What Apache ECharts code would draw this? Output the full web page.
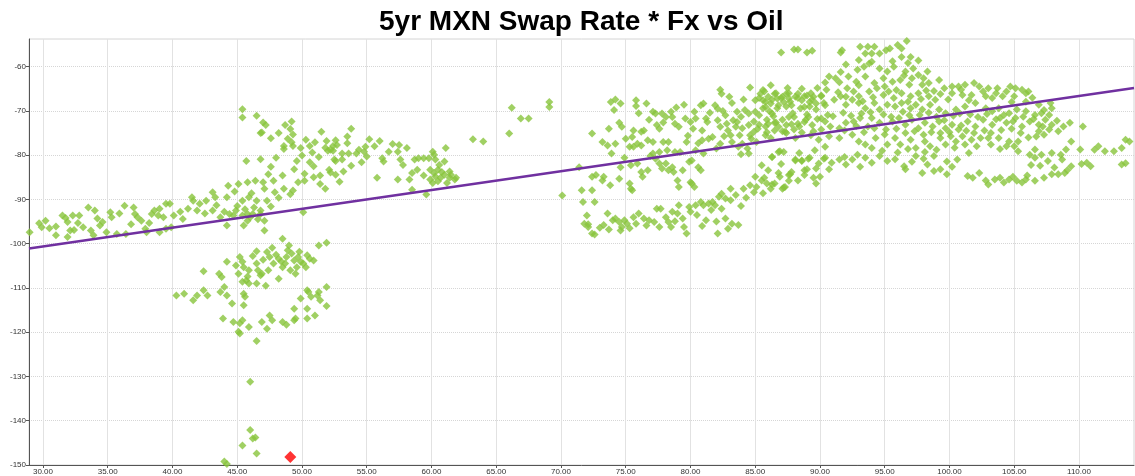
<!DOCTYPE html>
<html>
<head>
<meta charset="utf-8">
<title>5yr MXN Swap Rate * Fx vs Oil</title>
<script src="https://cdn.jsdelivr.net/npm/echarts@6/dist/echarts.min.js"></script>
<style>
  html, body { margin: 0; padding: 0; background: #fff; }
  #chart { width: 1135px; height: 476px; }
</style>
</head>
<body>
<div id="chart"></div>
<script>
// tick values
const xTicks = [30, 35, 40, 45, 50, 55, 60, 65, 70, 75, 80, 85, 90, 95, 100, 105, 110];
const yTicks = [-150, -140, -130, -120, -110, -100, -90, -80, -70, -60];

// oil (x) vs swap rate * fx (y), grouped by cloud
const leftBand = [
  [28.97,-97.4],[29.7,-95.4],[29.9,-96.3],[30.5,-96.5],[31.0,-96.1],[31.0,-98.1],[31.5,-93.6],[31.75,-94.2],
  [31.9,-95.1],[32.1,-97],[31.9,-98.5],[32.3,-93.6],[32.8,-93.6],[32.7,-95.3],[33.1,-96.3],[33.5,-91.8],
  [34.0,-92.5],[33.7,-97],[33.9,-98.1],[34.6,-95.1],[34.4,-95.9],[34.9,-97.4],[35.2,-92.9],[35.3,-94],
  [35.7,-97.8],[36.3,-91.4],[36.4,-97.8],[37.0,-91.8],[37.1,-93.3],[37.3,-94],[37.6,-94.8],[37.9,-96.6],
  [38.0,-97.4],[38.4,-93.3],[38.6,-92.5],[38.9,-93.6],[39.0,-92.1],[39.3,-94],[39.5,-91],[39.8,-91],
  [40.1,-93.6],[39.9,-96.3],[39.0,-97.4],[39.5,-96.6],[40.8,-94.4],[41.2,-92.1],[41.5,-89.5],[41.6,-90.3],
  [42.1,-91],[41.9,-92.5],[42.6,-90.3],[43.1,-88.4],[43.3,-89.5],[43.1,-92.5],[43.7,-94],[44.2,-95.9],
  [44.3,-86.9],[44.2,-89.5],[44.4,-93.3],[44.7,-93.6],[44.9,-92.5],[45.1,-86.5],[45.4,-90.3],[45.5,-95.9],
  [45.8,-86.1],[45.9,-89.5],[45.4,-93.6],[45.8,-93.3],[46.0,-94],[46.4,-85.8],[46.5,-90.3],[46.8,-92.5],
  [47.0,-86.1],[47.1,-87.6],[47.3,-90.3],[47.1,-94.8],[47.1,-97],[47.8,-85.8],[47.9,-88.4],[46.8,-93.3],
  [46.2,-93.3],[45.8,-94.8],[48.6,-87.6],[49.1,-88.8],[49.3,-88],[50.1,-92.9],[50.2,-85.8],[50.9,-85],
  [51.4,-84.6],[51.4,-86.5],[51.8,-87.6],[52.2,-83.9],
  [45.0,-91.5],[45.6,-92.2],[46.3,-91.8],[46.6,-94.5],[44.0,-92.8],[43.4,-91.3],[42.5,-93.2],[44.8,-88.2],
  [46.1,-88.6],[47.6,-91.6],[48.2,-89.6],[40.6,-92.8],[36.8,-95.6],[35.9,-93.2],[34.2,-94.3],[30.2,-94.8],
  [32.4,-96.9],[38.2,-95.3]
];

const upperMid = [
  [45.4,-69.6],[45.4,-71.5],[46.5,-71.1],[47.0,-72.6],[47.2,-73.2],[46.8,-75],[46.9,-74.9],[45.7,-81.3],
  [46.8,-80.9],[48.7,-73.2],[49.2,-72.4],[49.1,-74.1],[49.3,-75.3],[49.2,-77.1],[49.3,-77.9],[48.6,-77.9],
  [48.6,-78.6],[49.6,-81.3],[50.0,-80.1],[50.6,-77.9],[50.8,-79.4],[50.6,-81.6],[51.0,-77.1],[51.5,-74.7],
  [51.9,-76.8],[52.0,-79],[52.4,-79],[52.6,-81.3],[51.8,-78.3],[52.4,-77.9],
  [52.6,-76.6],[52.7,-77.7],[52.2,-78.8],[52.5,-81],[52.1,-83.3],[52.6,-84.4],[53.2,-83.7],[53.5,-75.8],
  [53.5,-77.3],[53.8,-74],[53.1,-79.6],[53.1,-81],[53.6,-79.6],[54.2,-79.6],[54.4,-78.8],[54.8,-79.2],
  [55.2,-76.4],[54.9,-78.1],[55.0,-80.3],[55.8,-85.1],[56.2,-80.7],[56.3,-81.4],[56.7,-79.2],[57.4,-79.2],
  [57.5,-77.7],[57.6,-81],[57.8,-82.2],[58.1,-78.4],[57.4,-85.5],[58.3,-85.5],[58.5,-84],[58.5,-87.8],
  [58.7,-81],[59.0,-80.7],[59.4,-80.7],[59.6,-88.9],[59.8,-80.7],[60.1,-79.2],[60.2,-79.9],[60.3,-81],
  [59.9,-83.3],[60.2,-84],[60.5,-83.3],[60.6,-82.2],[59.9,-85.5],[60.1,-86.3],[60.5,-85.9],[61.0,-81.4],
  [61.1,-78.4],[61.0,-84.4],[61.4,-83.7],[61.5,-84.4],[61.8,-85.5],[61.9,-85.1],[61.4,-85.1],[60.3,-84.8],
  [60.7,-85.1],[63.2,-76.4],[64.0,-76.9],[66.0,-75.1],[66.2,-69.3],[66.9,-71.7],[67.5,-71.7],[69.1,-68],
  [69.1,-69.1],[70.1,-89.1],
  [47.6,-76.2],[48.2,-75.0],[48.9,-76.3],[49.9,-78.4],[50.3,-76.5],[51.3,-80.4],[50.9,-82.5],[49.4,-83.2],
  [48.5,-84.6],[47.6,-82.6],[48.0,-80.6],[53.8,-82.4],[54.6,-81.6],[55.6,-78.0],[56.0,-76.8],[57.0,-77.5],
  [58.9,-83.3],[59.4,-84.6],[60.8,-83.8],[61.2,-86.3],[52.9,-86.0],[50.2,-84.2],[49.7,-86.1],[47.4,-84.3]
];

const lowerCluster = [
  [48.5,-98.9],[49.0,-100.4],[51.3,-100.4],[51.9,-99.8],[45.2,-103],[45.4,-104.1],[46.5,-101.7],[47.3,-101.9],
  [47.5,-103],[48.2,-103.4],[48.8,-103],[48.9,-101.5],[48.7,-104.5],[49.4,-103.8],[49.7,-103],[49.9,-104.1],
  [50.1,-104.5],[49.6,-105.3],[49.1,-106],[48.5,-105.3],[47.8,-104.5],[47.4,-106],[46.9,-106.8],[46.5,-104.5],
  [45.9,-106],[45.5,-105.3],[45.1,-106.8],[45.7,-108.3],[45.4,-108.6],[45.9,-109],[46.5,-109],[46.8,-107.1],
  [48.2,-107.9],[50.6,-103.4],[50.9,-103.8],[50.3,-105.3],[49.5,-106.8],[44.2,-104.1],[43.8,-107.5],[43.6,-106.8],
  [44.0,-109.8],[42.4,-106.2],[40.3,-111.7],[40.9,-111.3],[41.6,-112.8],[41.9,-111.7],[42.4,-110.5],[42.7,-111.7],
  [43.7,-110.9],[44.2,-111.7],[44.6,-113.5],[45.5,-111.3],[45.6,-112],[45.5,-113.9],[43.9,-116.9],[44.7,-117.7],
  [45.2,-118],[45.4,-117.3],[45.1,-119.9],[45.2,-120.3],[45.9,-118.8],[46.5,-122],[46.9,-117.7],[47.3,-119.2],
  [47.5,-116.2],[47.7,-117.3],[48.5,-117.7],[48.8,-118.3],[49.4,-117.3],[49.5,-116.9],[49.4,-114.7],[49.9,-112.4],
  [50.4,-110.5],[50.4,-114.7],[50.4,-116.9],[50.5,-110.9],[50.7,-112],[51.0,-116.2],[51.2,-111.7],[51.4,-112.8],
  [51.3,-110.9],[51.9,-109.8],[51.9,-114.1],[46.0,-131.2],[46.0,-142.1],[46.4,-143.8],[46.2,-144],[45.4,-145.6],
  [46.5,-147.4],[44.0,-149.2],[44.2,-149.8],
  [48.0,-102.5],[48.4,-104],[49.2,-102.2],[47.0,-103.6],[49.8,-101.8],[50.4,-102.6],[47.7,-100.9],[46.2,-102.8],
  [45.8,-107.4],[46.6,-106],[47.2,-109.5],[44.9,-104.9]
];

const midCloud = [
  [73.85,-68],[74.2,-67.4],[74.6,-68.3],[74.1,-69.8],[74.5,-72.7],[74.7,-73.6],[72.4,-75.1],[73.7,-74],
  [73.2,-77],[73.6,-77.8],[74.2,-77.4],[75.8,-67.6],[75.8,-68.9],[76.6,-68.3],[75.6,-74.4],[76.2,-74.7],
  [76.4,-74.4],[75.5,-75.9],[75.9,-77.4],[75.3,-78.1],[75.6,-78.1],[76.2,-77.8],[76.7,-76.6],[77.1,-70.2],
  [77.3,-70.6],[77.4,-73.2],[77.6,-74],[77.8,-70.6],[78.1,-71.4],[78.5,-70.2],[78.6,-71.4],[78.8,-72.9],
  [77.1,-77],[77.6,-79.3],[77.1,-79.6],[77.9,-77],[78.2,-78.9],[78.3,-77],[78.8,-79.3],[79.2,-79.3],
  [79.1,-73.6],[79.7,-77],[79.6,-71.7],[80.0,-72.5],[80.3,-70.2],[80.4,-71.7],[80.8,-68.7],[81.0,-68.3],
  [80.9,-74.4],[81.2,-71.7],[81.3,-72.5],[81.7,-75.9],[81.9,-68.7],[82.1,-69.5],[82.1,-72.1],[82.3,-73.6],
  [82.3,-65.2],[82.4,-66.1],[82.7,-71],[82.8,-72.9],[82.9,-74.4],[83.1,-75.5],[83.2,-68.2],[83.3,-72.1],
  [83.5,-73.6],[83.6,-70.2],[83.6,-72.5],[83.8,-75.5],[84.1,-67.4],[84.2,-69.8],[84.5,-73.2],[84.6,-64.7],
  [84.6,-75.5],[84.7,-76.3],[85.0,-67.6],[85.0,-70.2],[85.3,-71],[85.4,-66.1],[85.6,-65.3],[85.6,-67.6],
  [85.8,-69.1],[86.0,-66.8],[86.2,-68.3],[86.3,-70.6],[86.5,-66.1],[86.7,-67.2],[86.8,-68.7],[87.1,-66.8],
  [87.2,-68],[87.4,-66.1],[87.6,-67.2],[87.8,-68.7],[88.1,-66.8],[88.3,-66.1],[88.6,-67.6],[88.8,-69.1],
  [89.0,-66.5],[89.2,-68],[89.5,-66.8],[89.7,-68.3],[90.1,-66.5],[90.4,-68.7],[86.0,-72.9],[86.5,-74.4],
  [87.3,-74.7],[88.3,-72.9],[88.8,-72.5],[90.1,-71.7],[89.1,-71.4],[87.6,-71.4],[85.8,-75.5],[85.1,-77],
  [84.4,-78.5],[84.5,-79.6],[84.5,-70.6],
  [71.4,-82.7],[71.6,-87.9],[72.4,-84.9],[72.7,-84.5],[72.4,-87.9],[73.3,-84.9],[73.8,-86.8],[74.5,-85.3],
  [74.6,-82.7],[75.3,-86.4],[75.5,-87.9],[75.4,-82.3],[75.9,-81.9],[76.2,-83.8],[76.3,-84.9],[76.7,-83.4],
  [77.3,-80.8],[77.6,-81.9],[77.8,-83],[78.1,-81.9],[78.3,-83.4],[78.6,-82.7],[78.7,-83.8],[79.0,-85.7],
  [79.4,-83.4],[79.9,-81.5],[80.1,-81.2],[80.4,-78.9],[80.6,-82.7],[80.8,-83.4],[79.1,-87.2],[80.0,-86.1],
  [80.3,-87.2],[80.9,-76.6],[81.4,-76.3],[82.3,-77.4],[83.2,-77],[83.7,-78.1],[84.0,-77.4],[84.9,-74.7],
  [76.0,-70.5],[76.8,-72.0],[77.9,-72.6],[78.9,-69.2],[79.5,-68.6],[80.2,-74.0],[81.5,-70.4],[82.5,-70.0],
  [83.0,-66.8],[83.9,-71.3],[84.0,-73.9],[84.9,-72.4],[85.2,-74.0],[85.9,-72.0],[86.6,-72.6],[87.4,-73.2],
  [88.0,-74.2],[89.3,-75.5],[79.8,-75.6],[80.6,-77.3],[81.0,-79.6],[82.0,-78.5],[82.6,-75.7],[83.9,-79.8],
  [76.9,-80.2],[74.9,-80.6],[73.9,-79.6],[75.0,-76.3]
];

const lowerBand = [
  [71.7,-90.6],[71.8,-95.5],[72.1,-96.2],[72.4,-97.7],[72.6,-90.6],[72.0,-93.6],[73.2,-85.7],[73.3,-95.8],
  [73.6,-93.2],[74.0,-94.7],[74.2,-94.3],[74.5,-95.1],[74.7,-96.2],[74.9,-94.7],[75.1,-95.5],[74.6,-97],
  [75.4,-87.6],[75.6,-94],[75.8,-95.5],[76.4,-94.3],[76.8,-94.7],[77.2,-95.1],[77.4,-92.1],[77.7,-92.1],
  [77.6,-96.2],[78.1,-94],[78.3,-95.1],[78.6,-92.8],[78.5,-96.2],[79.0,-93.2],[79.1,-91.3],[79.4,-94.3],
  [79.5,-96.2],[79.7,-97.7],[79.9,-91.7],[80.0,-92.8],[80.1,-86.4],[80.4,-91.3],[80.8,-90.6],[81.0,-91.3],
  [81.2,-94.7],[81.4,-90.9],[81.7,-90.6],[81.9,-91.3],[82.1,-97.7],[82.2,-89.4],[82.4,-88.7],[82.4,-92.1],
  [82.7,-89.8],[82.9,-96.6],[83.1,-87.6],[83.2,-95.5],[83.7,-95.8],[82.7,-94.3],[83.1,-90.2],[84.1,-87.6],
  [84.6,-86.8],[85.0,-84.9],[85.1,-87.2],[85.5,-85.7],[85.9,-86.4],[86.2,-87.6],[86.3,-80.4],[86.5,-86.4],
  [86.9,-84.9],[87.1,-87.6],[87.3,-87.2],[87.6,-84.5],[87.8,-83.8],[88.3,-85.7],[86.8,-79.3],[87.2,-79.3],
  [88.1,-81.2],[88.6,-81.2],[89.1,-80.8],[89.7,-83],[90.0,-84.9],[90.3,-80.8],[90.4,-78.1],[88.8,-83.4],
  [89.6,-78.9],[89.9,-81.9],[72.1,-95.6],[72.6,-97.9],
  [73.0,-96.4],[73.7,-96.8],[75.3,-96.5],[76.0,-93.2],[76.6,-95.9],[78.8,-94.9],[80.5,-93.5],[80.9,-96.0],
  [81.6,-92.4],[82.0,-95.0],[83.5,-89.0],[83.9,-91.5],[84.3,-89.6],[84.9,-88.4],[85.6,-88.6]
];

const rightCloud = [
  [87.0,-56.8],[88.0,-56.1],[88.3,-56.1],[89.0,-56.8],[89.4,-56.4],[91.6,-56.8],[91.7,-56.3],[93.1,-55.5],
  [93.7,-55.5],[94.2,-55.5],[93.5,-57],[94.0,-57],[94.6,-57],[95.1,-56.3],[95.4,-55.9],[96.0,-55.1],
  [96.3,-55.9],[96.7,-54.2],[97.0,-57.8],[96.3,-57.8],[93.0,-58.5],[92.9,-60.7],[93.4,-60],[94.0,-58.9],
  [94.6,-60.4],[95.2,-61.1],[95.7,-60],[96.6,-61.1],[97.2,-60.4],[97.6,-61.9],[98.0,-62.6],[98.3,-61.1],
  [90.7,-62.2],[91.2,-62.6],[92.2,-62.2],[92.8,-63.4],[93.5,-62.2],[94.2,-63.7],[94.9,-62.6],[95.6,-63.4],
  [96.2,-63],[96.9,-64.1],[97.1,-62.6],[97.9,-64.1],[98.4,-63.7],[92.1,-64.9],[92.6,-65.6],[93.0,-66.7],
  [93.8,-65.6],[94.4,-64.9],[94.9,-66.4],[95.3,-65.6],[95.7,-67.1],[96.3,-66],[97.0,-66.7],[97.6,-66],
  [98.4,-66.7],[98.9,-67.5],[99.6,-64.9],[100.2,-64.5],[100.7,-64.5],[101.2,-64.1],[101.9,-63.7],[102.3,-64.5],
  [103.0,-64.9],[103.7,-64.9],[104.7,-64.5],[105.1,-64.9],[105.6,-65.2],[105.9,-66],[106.1,-65.6],[100.2,-66],
  [101.0,-66.4],[101.7,-66.4],[102.8,-66.7],[103.3,-67.1],[104.1,-66.7],[105.0,-66.7],[105.9,-67.9],[107.8,-68.2],
  [107.9,-69.4],
  [85.7,-65.6],[86.6,-66],[85.3,-67.1],[85.8,-67.9],[86.3,-67.5],[87.0,-67.1],[87.6,-66],[87.7,-67.9],
  [88.3,-67.1],[88.8,-66.7],[89.3,-66],[89.4,-67.5],[85.6,-69.4],[86.1,-70.1],[86.7,-69.4],[87.4,-69],
  [87.9,-70.5],[88.5,-69.4],[89.2,-69],[89.7,-69.7],[90.1,-66.7],[90.3,-68.2],[90.6,-70.9],[91.1,-67.5],
  [91.6,-66.7],[92.0,-68.6],[92.5,-67.5],[93.0,-68.2],[93.5,-69.4],[94.2,-68.2],[94.6,-69.7],[95.2,-68.6],
  [95.8,-69],[96.3,-68.2],[97.0,-69.4],[97.4,-68.6],[97.9,-69.7],[98.5,-68.6],[99.2,-69.7],[99.7,-70.5],
  [100.5,-69.7],[101.2,-69],[102.0,-68.2],[102.8,-69.4],[103.3,-70.1],[103.8,-69.4],[104.6,-70.5],[105.2,-69.7],
  [105.9,-70.1],[106.6,-70.9],[107.1,-70.5],[107.7,-70.9],
  [85.3,-73.1],[85.8,-73.5],[86.5,-72.7],[87.1,-74.6],[88.4,-73.5],[88.9,-72],[89.5,-74.6],[90.4,-72.4],
  [91.0,-71.2],[91.5,-73.9],[92.0,-72.7],[92.6,-72.4],[93.1,-71.6],[93.7,-73.5],[94.0,-71.6],[94.6,-72.7],
  [95.1,-74.2],[95.6,-72.4],[96.1,-71.6],[96.6,-73.1],[97.1,-72],[97.6,-73.9],[98.1,-72.7],[98.7,-73.5],
  [99.2,-72.4],[99.7,-73.9],[100.2,-73.1],[100.7,-74.2],[101.4,-72.4],[102.0,-73.5],[102.6,-72],[103.3,-73.1],
  [103.9,-71.6],[104.4,-72.7],[105.1,-71.6],[105.6,-73.5],[106.2,-72.4],[106.9,-73.1],[107.4,-72],[107.9,-73.1],
  [107.7,-74.2],[108.8,-73.5],[109.3,-72.7],[110.3,-73.5],
  [86.2,-76.1],[87.4,-75],[88.1,-76.1],[89.9,-76.5],[90.7,-75.7],[91.5,-76.1],[92.5,-75.4],[93.0,-76.9],
  [93.5,-77.6],[94.3,-76.1],[95.2,-77.6],[95.8,-76.1],[96.2,-77.6],[97.0,-76.5],[97.4,-78.4],[98.1,-76.9],
  [98.5,-78],[99.3,-76.1],[99.7,-77.6],[100.1,-75.7],[100.5,-76.9],[101.0,-75.7],[101.7,-76.5],[102.4,-76.1],
  [103.0,-76.1],[103.8,-76.1],[104.4,-78],[104.6,-76.9],[105.3,-76.9],[106.6,-78.7],[105.3,-79.1],[106.9,-74.6],
  [107.3,-75.4],
  [85.7,-85.1],[86.3,-86.6],[86.8,-84],[87.2,-87.3],[87.7,-84.3],[88.1,-81],[88.6,-81.3],[89.0,-83.2],
  [89.2,-80.6],[89.5,-85.1],[86.3,-80.4],[86.9,-79.1],[88.4,-79.5],[90.4,-80.6],[90.7,-83.2],[91.5,-81],
  [92.0,-82.1],[92.5,-81],[92.9,-79.9],[93.5,-80.6],[94.0,-81.7],[95.2,-81.3],[96.5,-82.5],[96.6,-83.2],
  [97.4,-80.2],[97.9,-84],[98.3,-82.1],[98.8,-83.6],[98.8,-80.2],[99.3,-83.2],[99.8,-84.3],[100.6,-81],
  [101.5,-79.5],[101.4,-84.7],[102.3,-84],[101.8,-85.1],[103.0,-86.6],[103.5,-85.5],[103.9,-85.1],[104.6,-85.5],
  [105.2,-85.8],[105.6,-86.2],[105.9,-85.5],[106.6,-85.8],[107.3,-85.1],[107.9,-84.3],[108.4,-84.3],[108.9,-84],
  [109.4,-82.5],[110.6,-81.7],[110.9,-82.5],[106.2,-79.9],[106.6,-80.6],[107.1,-79.9],[107.6,-81.3],[107.9,-79.5],
  [108.6,-79.9],[108.7,-81],[109.0,-78.7],[109.4,-76.9],[110.1,-78.7],[111.5,-78],[112.0,-79.1],[112.7,-79.1],
  [113.3,-78.4],[113.3,-82.1],[113.9,-76.9],[111.2,-78.8],[113.6,-76.5],[113.6,-81.8]
];

// extra fill for the dense part of the right cloud
const rightCore = [
  [91.5,-63.5],[93.0,-64.2],[95.0,-64.5],[96.5,-62.0],[98.8,-65.5],[99.2,-63.0],
  [90.5,-65.2],[91.4,-65.8],[92.0,-66.8],[93.3,-67.8],[94.1,-66.9],[95.9,-65.3],[96.8,-67.9],[97.8,-67.3],
  [98.2,-65.4],[99.3,-66.2],[99.9,-67.4],[100.9,-65.2],[101.5,-67.6],[102.6,-65.6],[103.6,-66.0],[104.4,-65.6],
  [104.8,-68.0],[106.4,-67.0],[106.9,-68.6],[107.3,-69.8],
  [86.4,-71.2],[87.1,-72.0],[88.0,-71.4],[89.0,-70.8],[89.8,-71.8],[91.8,-70.4],[92.4,-71.1],[93.2,-70.6],
  [93.9,-70.3],[94.9,-70.8],[95.5,-71.3],[96.4,-70.2],[96.9,-71.0],[97.7,-70.9],[98.4,-70.4],[99.0,-71.3],
  [99.6,-72.1],[100.3,-71.1],[100.8,-70.6],[101.6,-70.8],[102.2,-71.4],[102.9,-70.7],[103.6,-71.9],[104.2,-70.9],
  [104.9,-72.4],[105.7,-71.3],[106.5,-71.8],[107.2,-73.5],[108.3,-72.2],[108.4,-74.6],
  [85.9,-74.8],[86.8,-73.6],[87.8,-73.0],[88.6,-74.9],[89.4,-73.2],[90.1,-74.2],[90.8,-73.5],[91.9,-74.4],
  [92.8,-73.4],[93.4,-74.8],[94.2,-73.9],[95.0,-75.3],[95.9,-74.0],[96.6,-75.0],[97.3,-74.6],[98.0,-75.4],
  [98.6,-74.8],[99.3,-75.0],[100.0,-74.8],[100.9,-73.3],[101.3,-74.5],[101.9,-75.0],[102.7,-74.4],[103.2,-75.0],
  [104.0,-74.3],[104.8,-74.0],[105.5,-75.0],[106.1,-76.0],[106.7,-75.8],
  [94.0,-78.4],[94.8,-79.0],[96.0,-79.4],[96.8,-78.6],[98.1,-79.3],[99.0,-78.8],[100.4,-78.3],[101.2,-77.6],
  [102.1,-78.0],[103.2,-77.6],[103.9,-78.6],[105.0,-78.0],
  [86.2,-64.2],[87.5,-64.8],[88.6,-65.0],[89.8,-64.8],[90.4,-63.6],[91.6,-61.2],[92.0,-59.5],[93.8,-59.3],
  [95.6,-58.8],[96.8,-59.2],[97.6,-58.6],
  [85.5,-82.3],[86.0,-83.4],[87.0,-82.0],[87.6,-85.8],[88.8,-84.5],[89.7,-86.4],[90.9,-81.7],[91.9,-80.4],
  [93.1,-82.6],[94.6,-80.2],[95.8,-80.9],[97.1,-81.5],[98.0,-80.8],[99.8,-81.4],[100.2,-82.6],[102.8,-85.7],
  [104.2,-86.2],[104.9,-84.9],[106.0,-84.6],[106.3,-82.2],[107.0,-82.4],[108.1,-82.8],[109.1,-83.4],[110.2,-82.0]
];

// latest observation and the fitted line's end points
const latestPoint = [[49.1, -148.2]];
const trendLine = [[28.92, -101.1], [114.25, -64.8]];

const chart = echarts.init(document.getElementById('chart'));

const option = {
  animation: false,
  backgroundColor: '#fff',
  textStyle: { fontFamily: 'Liberation Sans, Arial, sans-serif' },
  title: {
    text: '5yr MXN Swap Rate * Fx vs Oil',
    left: 374,
    top: 3,
    textStyle: { fontSize: 28, fontWeight: 'bold', color: '#000', fontFamily: 'Liberation Sans' }
  },
  grid: {
    left: 29, right: 1, top: 39, bottom: 11,
    show: true, borderColor: '#d4d4d4', borderWidth: 1
  },
  xAxis: {
    type: 'value',
    min: 28.92,
    max: 114.25,
    axisLine: { show: true, lineStyle: { color: '#555', width: 1 } },
    axisTick: { show: true, customValues: xTicks, length: 3, lineStyle: { color: '#555' } },
    axisLabel: {
      customValues: xTicks,
      formatter: v => v.toFixed(2),
      fontSize: 8, color: '#333', margin: 3
    },
    splitLine: { show: true, lineStyle: { color: '#e2e2e2', width: 1 } }
  },
  yAxis: {
    type: 'value',
    min: -150,
    max: -53.75,
    axisLine: { show: true, lineStyle: { color: '#555', width: 1 } },
    axisTick: { show: true, customValues: yTicks, length: 3, lineStyle: { color: '#555' } },
    axisLabel: { customValues: yTicks, fontSize: 8, color: '#333', margin: 3 },
    splitLine: { show: true, lineStyle: { color: '#d6d6d6', type: 'dotted', width: 1 } }
  },
  series: [
    {
      name: 'history',
      type: 'scatter',
      symbol: 'diamond',
      symbolSize: 8,
      itemStyle: { color: '#88c43c' },
      data: [].concat(leftBand, upperMid, lowerCluster, midCloud, lowerBand, rightCloud, rightCore)
    },
    {
      name: 'trend',
      type: 'line',
      showSymbol: false,
      symbol: 'none',
      lineStyle: { color: '#7030a0', width: 2.5 },
      data: trendLine
    },
    {
      name: 'latest',
      type: 'scatter',
      symbol: 'diamond',
      symbolSize: 12,
      itemStyle: { color: '#ff0000' },
      data: latestPoint
    }
  ]
};

chart.setOption(option);
window.addEventListener('resize', () => chart.resize());
</script>
</body>
</html>
